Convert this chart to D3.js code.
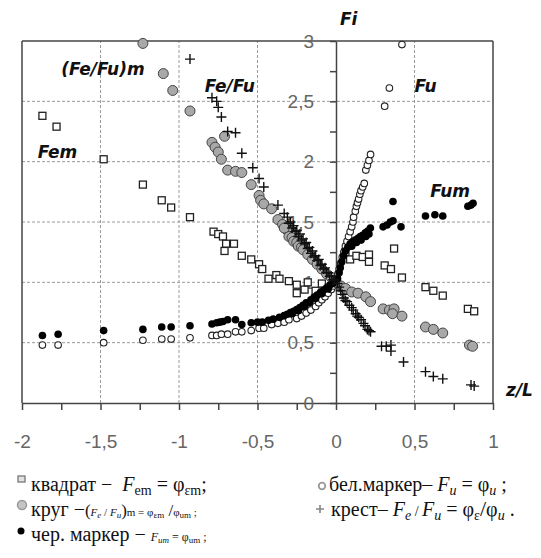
<!DOCTYPE html>
<html lang="ru">
<head>
<meta charset="UTF-8">
<title>Fi vs z/L</title>
<script src="https://d3js.org/d3.v7.min.js"></script>
<style>
  html, body { margin:0; padding:0; background:#fff; }
  .tick text { font-family:"Liberation Sans", sans-serif; font-size:19px; fill:#666; }
  .lbl { font-family:"DejaVu Sans", sans-serif; font-weight:bold; font-style:italic; font-size:17px; fill:#111; }
  .leg { font-family:"Liberation Serif", serif; font-size:20px; fill:#111; white-space:pre; }
  .grid line { stroke:#9a9a9a; stroke-dasharray:3,2; stroke-width:1; }
</style>
</head>
<body>
<div id="chart"></div>
<script>
// ---- data: [z/L, Fi]
const fem = [[-1.87,2.38],[-1.78,2.29],[-1.48,2.02],[-1.23,1.81],[-1.11,1.68],[-1.05,1.62],[-0.93,1.54],
  [-0.78,1.42],[-0.75,1.40],[-0.72,1.38],[-0.70,1.32],[-0.65,1.32],[-0.71,1.26],[-0.60,1.22],[-0.54,1.19],
  [-0.49,1.15],[-0.47,1.11],[-0.43,1.03],[-0.38,1.06],[-0.36,1.03],[-0.30,1.01],[-0.25,0.98],[-0.25,0.91],
  [-0.20,0.94],[-0.18,1.00],[-0.13,0.93],[-0.09,0.99],[0.06,1.25],[0.09,1.19],[0.13,1.22],[0.17,1.21],
  [0.21,1.23],[0.21,1.17],[0.31,1.14],[0.35,1.11],[0.37,1.28],[0.42,1.04],[0.57,0.96],[0.62,0.93],
  [0.68,0.89],[0.84,0.78],[0.88,0.76]];
const ratioM = [[-1.23,2.98],[-1.10,2.73],[-1.04,2.59],[-0.93,2.42],[-0.71,2.21],[-0.79,2.16],[-0.77,2.12],
  [-0.75,2.08],[-0.73,2.02],[-0.69,1.93],[-0.64,1.92],[-0.60,1.91],[-0.54,1.81],[-0.49,1.72],[-0.48,1.68],
  [-0.46,1.65],[-0.41,1.61],[-0.37,1.52],[-0.34,1.48],[-0.31,1.43],[-0.30,1.38],[-0.33,1.45],[-0.28,1.37],
  [-0.27,1.34],[-0.25,1.33],[-0.24,1.30],[-0.22,1.29],[-0.21,1.27],[-0.18,1.23],[-0.15,1.19],[-0.12,1.15],
  [-0.09,1.11],[-0.06,1.07],[-0.03,1.04],[0.00,1.00],[0.03,0.97],[0.06,0.95],[0.10,0.92],[0.14,0.91],
  [0.19,0.88],[0.22,0.84],[0.30,0.78],[0.34,0.77],[0.37,0.78],[0.36,0.74],[0.42,0.72],[0.57,0.63],
  [0.62,0.61],[0.68,0.58],[0.85,0.48],[0.87,0.47]];
const ratio = [[-0.93,2.85],[-0.79,2.53],[-0.76,2.50],[-0.75,2.45],[-0.73,2.37],[-0.69,2.25],[-0.64,2.24],
  [-0.60,2.07],[-0.53,1.95],[-0.49,1.86],[-0.46,1.79],[-0.37,1.64],[-0.33,1.57],[-0.31,1.54],[-0.29,1.50],
  [-0.27,1.47],[-0.25,1.43],[-0.23,1.40],[-0.21,1.36],[-0.19,1.33],[-0.17,1.29],[-0.15,1.26],[-0.13,1.22],
  [-0.11,1.19],[-0.09,1.15],[-0.07,1.12],[-0.05,1.08],[-0.03,1.05],[-0.01,1.02],
  [-0.30,1.49],[-0.28,1.45],[-0.26,1.42],[-0.24,1.38],[-0.22,1.35],[-0.20,1.32],[-0.18,1.28],[-0.16,1.24],
  [-0.14,1.21],[-0.12,1.18],[-0.10,1.14],[-0.08,1.11],[-0.06,1.08],[-0.04,1.05],[-0.02,1.02],
  [0.01,0.99],[0.02,0.96],
  [0.03,0.93],[0.04,0.90],[0.05,0.87],[0.06,0.85],[0.07,0.84],[0.085,0.81],[0.10,0.79],[0.11,0.77],
  [0.125,0.74],[0.135,0.72],[0.145,0.71],[0.16,0.69],[0.175,0.66],[0.185,0.64],[0.20,0.61],[0.21,0.60],
  [0.22,0.59],[0.29,0.47],[0.32,0.47],[0.35,0.48],[0.35,0.43],[0.43,0.34],[0.57,0.26],[0.62,0.22],
  [0.68,0.20],[0.86,0.15],[0.88,0.14]];
const fu = [[-1.87,0.48],[-1.77,0.48],[-1.48,0.50],[-1.23,0.52],[-1.11,0.53],[-1.05,0.53],[-0.93,0.54],
  [-0.79,0.56],[-0.76,0.56],[-0.73,0.57],[-0.69,0.57],[-0.64,0.59],[-0.60,0.59],[-0.54,0.60],[-0.49,0.62],
  [-0.46,0.62],[-0.41,0.65],[-0.37,0.66],[-0.33,0.67],[-0.30,0.69],[-0.25,0.70],[-0.22,0.72],[-0.19,0.745],
  [-0.16,0.77],[-0.13,0.80],[-0.11,0.83],[-0.09,0.855],[-0.07,0.88],[-0.05,0.91],[-0.03,0.94],[-0.015,0.97],
  [0.005,1.03],[0.012,1.07],[0.02,1.11],[0.03,1.16],[0.04,1.21],[0.05,1.25],[0.06,1.30],[0.07,1.34],
  [0.08,1.38],[0.09,1.42],[0.10,1.46],[0.108,1.50],[0.112,1.54],[0.123,1.59],[0.13,1.63],[0.137,1.66],
  [0.144,1.69],[0.152,1.73],[0.159,1.76],[0.17,1.79],[0.18,1.82],[0.19,1.93],[0.20,1.97],[0.21,2.01],
  [0.22,2.06],[0.31,2.46],[0.34,2.61],[0.42,2.97]];
const fum = [[-1.87,0.56],[-1.77,0.57],[-1.48,0.60],[-1.23,0.61],[-1.11,0.63],[-1.05,0.63],[-0.93,0.64],
  [-0.79,0.655],[-0.76,0.665],[-0.74,0.67],[-0.72,0.675],[-0.69,0.69],[-0.64,0.69],[-0.60,0.65],[-0.54,0.665],
  [-0.50,0.67],[-0.47,0.67],[-0.43,0.685],[-0.40,0.695],[-0.36,0.71],[-0.33,0.725],[-0.31,0.735],[-0.29,0.75],
  [-0.27,0.76],[-0.25,0.775],[-0.23,0.79],[-0.21,0.81],[-0.19,0.83],[-0.16,0.855],[-0.14,0.875],[-0.12,0.895],
  [-0.10,0.915],[-0.08,0.935],[-0.06,0.955],[-0.04,0.975],[-0.02,0.99],
  [-0.28,0.74],[-0.24,0.765],[-0.20,0.80],[-0.17,0.83],[-0.13,0.865],[-0.09,0.905],[-0.05,0.945],
  [0.01,1.03],[0.02,1.08],[0.027,1.12],[0.037,1.17],[0.048,1.22],[0.06,1.26],[0.075,1.29],[0.09,1.32],
  [0.107,1.335],[0.123,1.35],[0.14,1.365],[0.155,1.38],[0.17,1.39],[0.187,1.41],[0.203,1.425],[0.219,1.45],
  [0.10,1.30],[0.13,1.33],[0.16,1.35],[0.19,1.38],[0.21,1.40],
  [0.30,1.46],[0.325,1.475],[0.346,1.50],[0.363,1.51],[0.414,1.46],[0.363,1.67],[0.57,1.55],[0.63,1.56],
  [0.68,1.55],[0.84,1.63],[0.86,1.64],[0.873,1.655]];

const xTicks = d3.range(-2, 1.001, 0.25);
const yTicks = d3.range(0, 3.001, 0.25);
const fmt = v => (Math.abs(v*2 - Math.round(v*2)) < 1e-6) ? String(+v.toFixed(2)).replace(".", ",") : "";

const W = 541, H = 558;
const svg = d3.select("#chart").append("svg").attr("width", W).attr("height", H);

const x = d3.scaleLinear().domain([-2, 1]).range([22, 493]);
const y = d3.scaleLinear().domain([0, 3]).range([403, 41]);

// grid
const grid = svg.append("g").attr("class", "grid");
grid.selectAll(".h").data([0.5, 1, 1.5, 2, 2.5]).join("line")
  .attr("x1", x(-2)).attr("x2", x(1)).attr("y1", d => y(d)).attr("y2", d => y(d));
grid.selectAll(".v").data([-1.5, -1, -0.5, 0.5]).join("line")
  .attr("y1", y(0)).attr("y2", y(3)).attr("x1", d => x(d)).attr("x2", d => x(d));

// frame
const frame = svg.append("g").attr("stroke", "#444").attr("stroke-width", 1.5);
frame.append("line").attr("x1", x(-2)).attr("x2", x(1)).attr("y1", y(3)).attr("y2", y(3));
frame.append("line").attr("x1", x(-2)).attr("x2", x(-2)).attr("y1", y(3)).attr("y2", y(0));
frame.append("line").attr("x1", x(1)).attr("x2", x(1)).attr("y1", y(3)).attr("y2", y(0));

// x axis
const xAxis = svg.append("g").attr("transform", `translate(0,${y(0)})`)
  .call(d3.axisBottom(x).tickValues(xTicks).tickSize(7).tickSizeOuter(0).tickFormat(fmt));
xAxis.selectAll("text").attr("y", 38).attr("dy", "0.35em");

// y axis at z/L = 0
const yAxis = svg.append("g").attr("transform", `translate(${x(0)},0)`)
  .call(d3.axisLeft(y).tickValues(yTicks).tickSize(6).tickSizeOuter(0).tickFormat(fmt));
yAxis.selectAll("text").attr("x", -22);
svg.selectAll(".domain, .tick line").attr("stroke", "#444").attr("stroke-width", 1.5);

// markers
svg.append("g").selectAll("rect").data(fem).join("rect")
  .attr("x", d => x(d[0]) - 3.5).attr("y", d => y(d[1]) - 3.5).attr("width", 7).attr("height", 7)
  .attr("fill", "#fff").attr("stroke", "#222").attr("stroke-width", 1.3);
svg.append("g").selectAll("circle").data(ratioM).join("circle")
  .attr("cx", d => x(d[0])).attr("cy", d => y(d[1])).attr("r", 5)
  .attr("fill", "#a8a8a8").attr("stroke", "#444").attr("stroke-width", 1);
svg.append("g").selectAll("circle").data(fu).join("circle")
  .attr("cx", d => x(d[0])).attr("cy", d => y(d[1])).attr("r", 3.3)
  .attr("fill", "#fff").attr("stroke", "#222").attr("stroke-width", 1.1);
svg.append("g").selectAll("circle").data(fum).join("circle")
  .attr("cx", d => x(d[0])).attr("cy", d => y(d[1])).attr("r", 3.8).attr("fill", "#000");
svg.append("g").selectAll("path").data(ratio).join("path")
  .attr("transform", d => `translate(${x(d[0])},${y(d[1])})`)
  .attr("d", "M-5,0H5M0,-5V5").attr("stroke", "#111").attr("stroke-width", 1.4);

// labels inside the plot
const labels = [["(Fe/Fu)m", -1.75, 2.72], ["Fe/Fu", -0.836, 2.58], ["Fem", -1.9, 2.03],
  ["Fu", 0.5, 2.58], ["Fum", 0.6, 1.71]];
svg.selectAll(".lbl.in").data(labels).join("text").attr("class", "lbl in")
  .attr("x", d => x(d[1])).attr("y", d => y(d[2])).text(d => d[0]);
svg.append("text").attr("class", "lbl").attr("x", 340).attr("y", 25).text("Fi");
svg.append("text").attr("class", "lbl").attr("x", 506).attr("y", 396).text("z/L");

// legend
function leg(x0, y0, parts) {
  const t = svg.append("text").attr("class", "leg").attr("x", x0).attr("y", y0);
  parts.forEach(p => {
    const s = t.append("tspan").text(p.t);
    if (p.i) s.attr("font-style", "italic");
    if (p.fs) s.attr("font-size", p.fs);
    if (p.dy) s.attr("dy", p.dy);
  });
}
svg.append("rect").attr("x", 18).attr("y", 476).attr("width", 7).attr("height", 6)
  .attr("fill", "#e2e2e2").attr("stroke", "#777").attr("stroke-width", 1.3);
leg(31, 491, [{t:"квадрат −  "},{t:"F",i:1},{t:"em",fs:14,dy:4},{t:" = φ",dy:-4},{t:"εm",fs:14,dy:4},{t:";",dy:-4}]);
svg.append("circle").attr("cx", 322).attr("cy", 486).attr("r", 3.3)
  .attr("fill", "#fff").attr("stroke", "#999").attr("stroke-width", 1.8);
leg(329, 491, [{t:"бел.маркер– "},{t:"F",i:1},{t:"u",i:1,fs:14,dy:4},{t:" = φ",dy:-4},{t:"u",i:1,fs:14,dy:4},{t:" ;",dy:-4}]);
svg.append("circle").attr("cx", 22).attr("cy", 505).attr("r", 4.5)
  .attr("fill", "#c4c4c4").attr("stroke", "#999").attr("stroke-width", 1.5);
leg(31, 516, [{t:"круг −"},{t:"(",fs:17},{t:"F",i:1,fs:11},{t:"e",i:1,fs:9,dy:2},{t:" / ",fs:11,dy:-2},
  {t:"F",i:1,fs:11},{t:"u",i:1,fs:9,dy:2},{t:")",fs:17,dy:-2},{t:"m = φ",fs:11},{t:"εm",fs:9,dy:2},
  {t:" /",fs:17,dy:-2},{t:"φ",fs:11},{t:"um",fs:9,dy:2},{t:" ;",fs:11,dy:-2}]);
svg.append("path").attr("transform", "translate(320,509)").attr("d", "M-4,0H4M0,-4V4")
  .attr("stroke", "#888").attr("stroke-width", 1.6);
leg(331, 516, [{t:"крест– "},{t:"F",i:1},{t:"e",i:1,fs:14,dy:4},{t:" / ",fs:14,dy:-4},{t:"F",i:1},
  {t:"u",i:1,fs:14,dy:4},{t:" = φ",dy:-4},{t:"ε",fs:14,dy:4},{t:"/",fs:22,dy:-4},{t:"φ"},
  {t:"u",i:1,fs:14,dy:4},{t:" .",dy:-4}]);
svg.append("circle").attr("cx", 21).attr("cy", 531).attr("r", 3.5).attr("fill", "#000");
leg(31, 541, [{t:"чер. маркер − "},{t:"F",i:1,fs:12},{t:"um",i:1,fs:9,dy:2},{t:" = φ",fs:12,dy:-2},
  {t:"um",fs:9,dy:2},{t:" ;",fs:12,dy:-2}]);
</script>
</body>
</html>
